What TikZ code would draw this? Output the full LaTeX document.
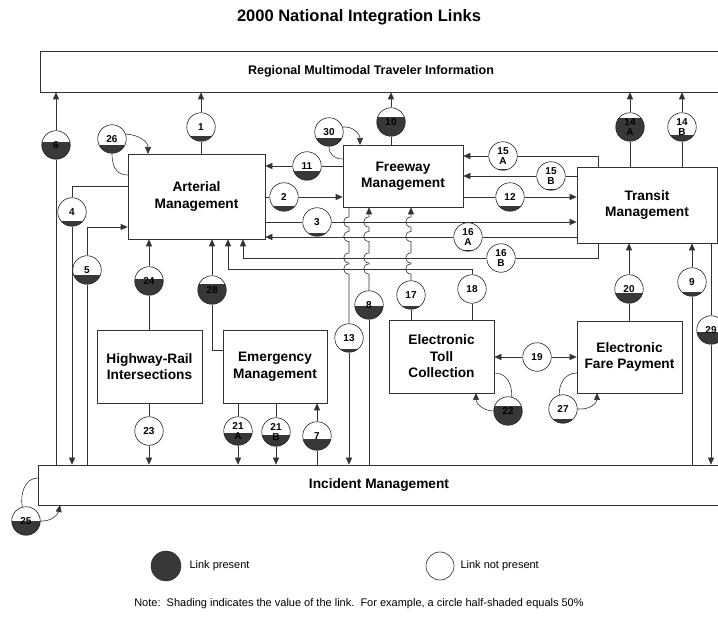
\documentclass[tikz,border=0pt]{standalone}
\usepackage{fontspec}
\setmainfont{Liberation Sans}
\usetikzlibrary{arrows.meta}
\newcommand\linkc[5]{%
  \fill[white] (#2,#3) circle[radius=14.25pt];
  \begin{scope}
    \clip (#2,#3) circle[radius=14.25pt];
    \fill[shd] (#2-16,#3+14.25-28.5*#4) rectangle (#2+16,#3+16);
  \end{scope}
  \node[lk] (#1) at (#2,#3) {#5};
}
\begin{document}
\begin{tikzpicture}[x=1pt,y=-1pt,
  ln/.style={line width=0.6pt, draw=black!80},
  arr/.style={ln, -{Triangle[length=7pt,width=6pt]}},
  sysbox/.style={draw=black!80, line width=0.6pt, fill=white, inner sep=0pt, align=center, font=\fontsize{13.7}{16.5}\selectfont\bfseries},
  lk/.style={circle, draw=black!85, line width=0.6pt, minimum size=28.5pt, inner sep=0pt, align=center, font=\fontsize{10}{10.5}\selectfont\bfseries},
  shd/.style={fill=black!78},
]
\useasboundingbox (0,0) rectangle (718,617);

% title
\node[font=\fontsize{16.5}{18}\selectfont\bfseries] (title) at (359,17) {2000 National Integration Links};

% system boxes
\node[sysbox, minimum width=680pt, minimum height=41pt, font=\fontsize{12.5}{14}\selectfont\bfseries] (reg) at (380,71.5) {\hspace*{-18pt}Regional Multimodal Traveler Information};
\node[sysbox, minimum width=137pt, minimum height=85pt] (art) at (196.5,196.5) {Arterial\\Management};
\node[sysbox, minimum width=120pt, minimum height=62pt] (fw) at (403,176) {Freeway\\Management};
\node[sysbox, minimum width=140pt, minimum height=76pt] (tr) at (647,205) {Transit\\Management};
\node[sysbox, minimum width=105pt, minimum height=73pt] (hr) at (149.5,366.5) {Highway-Rail\\Intersections};
\node[sysbox, minimum width=104pt, minimum height=73pt] (em) at (275,366.5) {Emergency\\Management};
\node[sysbox, minimum width=105pt, minimum height=73pt] (etc) at (441.5,356.5) {Electronic\\Toll\\Collection};
\node[sysbox, minimum width=105pt, minimum height=72pt] (efp) at (629.5,357) {Electronic\\Fare Payment};
\node[sysbox, minimum width=682pt, minimum height=40pt] (inc) at (379,485) {Incident Management};

% link circles
\linkc{c1}{201}{127}{0.18}{1}
\linkc{c6}{56}{145}{0.6}{6}
\linkc{c26}{112}{139}{0.3}{26}
\linkc{c30}{329}{132}{0.3}{30}
\linkc{c10}{391}{122}{0.66}{10}
\linkc{c11}{307}{166}{0.33}{11}
\linkc{c2}{284}{197}{0.2}{2}
\linkc{c3}{317}{222}{0.12}{3}
\linkc{c4}{72}{212}{0.18}{4}
\linkc{c5}{87}{270}{0.32}{5}
\linkc{c15a}{503}{156}{0.05}{15\\A}
\linkc{c15b}{551}{176}{0.03}{15\\B}
\linkc{c12}{510}{197}{0.19}{12}
\linkc{c16a}{468}{237}{0.06}{16\\A}
\linkc{c16b}{501}{258}{0.02}{16\\B}
\linkc{c14a}{630}{127}{0.8}{14\\A}
\linkc{c14b}{682}{127}{0.22}{14\\B}
\linkc{c24}{149}{281}{0.57}{24}
\linkc{c28}{212}{290}{0.7}{28}
\linkc{c13}{349}{338}{0.12}{13}
\linkc{c8}{369}{305}{0.46}{8}
\linkc{c17}{411}{295}{0.1}{17}
\linkc{c18}{472}{289}{0}{18}
\linkc{c20}{629}{289}{0.36}{20}
\linkc{c9}{692}{282}{0.14}{9}
\linkc{c29}{711}{330}{0.42}{29}
\linkc{c19}{537}{357}{0.02}{19}
\linkc{c22}{508}{411}{0.66}{22}
\linkc{c27}{563}{409}{0.15}{27}
\linkc{c23}{149}{431}{0}{23}
\linkc{c21a}{238}{431}{0.44}{21\\A}
\linkc{c21b}{276}{432}{0.39}{21\\B}
\linkc{c7}{317}{436}{0.4}{7}
\linkc{c25}{26}{521}{0.5}{25}

% corner / border coordinates
\coordinate (k4) at (72,186);
\coordinate (k5) at (87,227);
\coordinate (k15a) at (598,156);
\coordinate (k16b1) at (598,258);
\coordinate (k16b2) at (243,258);
\coordinate (k18a) at (472,269);
\coordinate (k18b) at (228,269);
\coordinate (k28) at (212,350);
\coordinate (k26) at (128,175);
\coordinate (t26) at (148,154);
\coordinate (k30) at (343,159);
\coordinate (t30) at (360,145);
\coordinate (k22) at (494,373);
\coordinate (t22) at (476,393);
\coordinate (k27) at (577,373);
\coordinate (t27) at (597,393);
\coordinate (k25) at (38,478);
\coordinate (t25) at (60,505);

% connectors to Regional Multimodal Traveler Information
\draw[ln] (c6 |- inc.north) -- (c6);
\draw[arr] (c6) -- (c6 |- reg.south);
\draw[ln] (art.north -| c1) -- (c1);
\draw[arr] (c1) -- (c1 |- reg.south);
\draw[ln] (fw.north -| c10) -- (c10);
\draw[arr] (c10) -- (c10 |- reg.south);
\draw[ln] (tr.north -| c14a) -- (c14a);
\draw[arr] (c14a) -- (c14a |- reg.south);
\draw[ln] (tr.north -| c14b) -- (c14b);
\draw[arr] (c14b) -- (c14b |- reg.south);

% self loops
\draw[ln] (c26.south) .. controls (112,170) and (119,175) .. (k26);
\draw[arr] (c26.20) .. controls (140,135) and (148,142) .. (t26);
\draw[ln] (c30.south) .. controls (329,155) and (335,159) .. (k30);
\draw[arr] (c30.20) .. controls (353,126) and (360,134) .. (t30);
\draw[ln] (k22) .. controls (506,373) and (512,382) .. (c22.75);
\draw[arr] (c22.west) .. controls (483,411) and (476,403) .. (t22);
\draw[ln] (k27) .. controls (566,373) and (559,382) .. (c27.105);
\draw[arr] (c27.east) .. controls (590,410) and (597,403) .. (t27);
\draw[ln] (k25) .. controls (25,478) and (20,493) .. (c25.105);
\draw[arr] (c25.east) .. controls (50,522) and (58,515) .. (t25);

% Arterial left side
\draw[ln] (art.west |- k4) -- (k4) -- (c4);
\draw[arr] (c4) -- (c4 |- inc.north);
\draw[ln] (c5 |- inc.north) -- (c5);
\draw[arr] (c5) -- (k5) -- (k5 -| art.west);

% Arterial - Freeway - Transit
\draw[ln] (fw.west |- c11) -- (c11);
\draw[arr] (c11) -- (c11 -| art.east);
\draw[ln] (art.east |- c2) -- (c2);
\draw[arr] (c2) -- (c2 -| fw.west);
\draw[ln] (art.east |- c3) -- (c3);
\draw[arr] (c3) -- (c3 -| tr.west);
\draw[ln] (tr.west |- c16a) -- (c16a);
\draw[arr] (c16a) -- (c16a -| art.east);
\draw[ln] (tr.south -| k16b1) -- (k16b1) -- (c16b);
\draw[arr] (c16b) -- (k16b2) -- (k16b2 |- art.south);
\draw[ln] (tr.north -| k15a) -- (k15a) -- (c15a);
\draw[arr] (c15a) -- (c15a -| fw.east);
\draw[ln] (tr.west |- c15b) -- (c15b);
\draw[arr] (c15b) -- (c15b -| fw.east);
\draw[ln] (fw.east |- c12) -- (c12);
\draw[arr] (c12) -- (c12 -| tr.west);

% lower boxes to Arterial
\draw[ln] (hr.north -| c24) -- (c24);
\draw[arr] (c24) -- (c24 |- art.south);
\draw[ln] (em.west |- k28) -- (k28) -- (c28);
\draw[arr] (c28) -- (c28 |- art.south);
\draw[ln] (etc.north -| c18) -- (c18);
\draw[arr] (c18) -- (k18a) -- (k18b) -- (k18b |- art.south);

% wavy verticals
\draw[ln] (fw.south -| c13) -- (349,217) .. controls (342,217) and (342,227) .. (349,227)
  -- (349,231.5) .. controls (342,231.5) and (342,241.5) .. (349,241.5)
  -- (349,253) .. controls (342,253) and (342,263) .. (349,263)
  -- (349,264) .. controls (342,264) and (342,274) .. (349,274)
  -- (c13);
\draw[arr] (c13) -- (c13 |- inc.north);
\draw[ln] (c8 |- inc.north) -- (c8);
\draw[arr] (c8) -- (369,274) .. controls (362,274) and (362,264) .. (369,264)
  -- (369,263) .. controls (362,263) and (362,253) .. (369,253)
  -- (369,241.5) .. controls (362,241.5) and (362,231.5) .. (369,231.5)
  -- (369,227) .. controls (362,227) and (362,217) .. (369,217)
  -- (c8 |- fw.south);
\draw[ln] (etc.north -| c17) -- (c17);
\draw[arr] (c17) -- (411,274) .. controls (404,274) and (404,264) .. (411,264)
  -- (411,263) .. controls (404,263) and (404,253) .. (411,253)
  -- (411,241.5) .. controls (404,241.5) and (404,231.5) .. (411,231.5)
  -- (411,227) .. controls (404,227) and (404,217) .. (411,217)
  -- (c17 |- fw.south);

% Transit lower side
\draw[ln] (efp.north -| c20) -- (c20);
\draw[arr] (c20) -- (c20 |- tr.south);
\draw[ln] (c9 |- inc.north) -- (c9);
\draw[arr] (c9) -- (c9 |- tr.south);
\draw[ln] (tr.south -| c29) -- (c29);
\draw[arr] (c29) -- (c29 |- inc.north);

% toll / fare
\draw[arr] (c19) -- (c19 -| etc.east);
\draw[arr] (c19) -- (c19 -| efp.west);

% to Incident Management
\draw[ln] (hr.south -| c23) -- (c23);
\draw[arr] (c23) -- (c23 |- inc.north);
\draw[ln] (em.south -| c21a) -- (c21a);
\draw[arr] (c21a) -- (c21a |- inc.north);
\draw[ln] (em.south -| c21b) -- (c21b);
\draw[arr] (c21b) -- (c21b |- inc.north);
\draw[ln] (c7 |- inc.north) -- (c7);
\draw[arr] (c7) -- (c7 |- em.south);

% legend
\node[circle, draw=black!85, fill=black!78, minimum size=30pt, inner sep=0pt] (legp) at (166,566) {};
\node[anchor=west, font=\fontsize{11}{12}\selectfont] (legpt) at (186,566) {Link present};
\node[circle, draw=black!85, line width=0.6pt, minimum size=28pt, inner sep=0pt] (legn) at (440,566) {};
\node[anchor=west, font=\fontsize{11}{12}\selectfont] (legnt) at (457,566) {Link not present};
\node[font=\fontsize{11}{12}\selectfont] (note) at (359,604) {Note:\ \ Shading indicates the value of the link.\ \ For example, a circle half-shaded equals 50\%};
\end{tikzpicture}
\end{document}
